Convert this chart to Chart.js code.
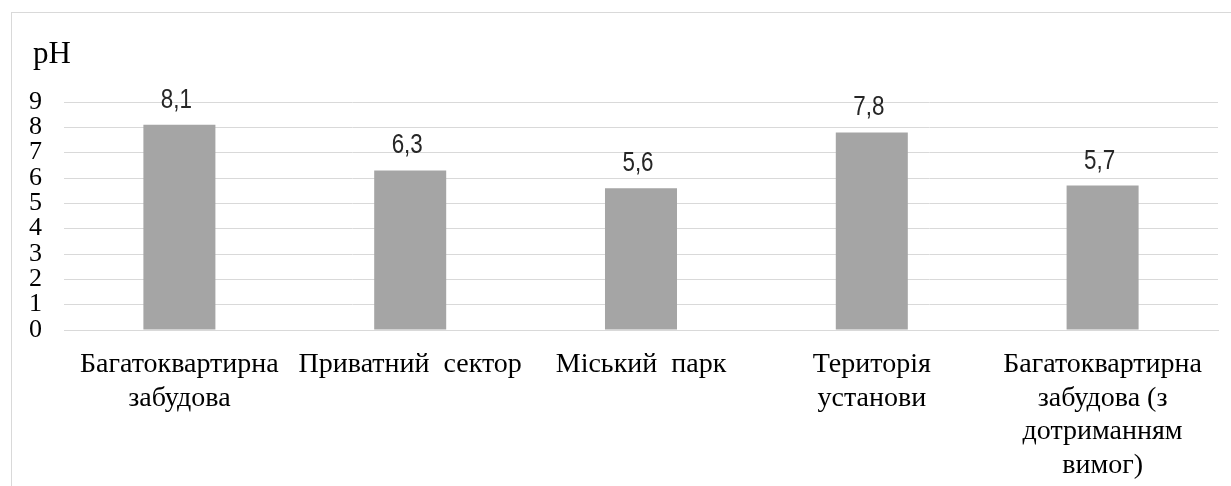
<!DOCTYPE html>
<html>
<head>
<meta charset="utf-8">
<script src="https://cdn.jsdelivr.net/npm/chart.js@4/dist/chart.umd.min.js"></script>
<style>
  html, body { margin: 0; padding: 0; background: #fff; overflow: hidden; }
  #wrap { position: relative; width: 1231px; height: 486px; }
  #frame { position: absolute; left: 11px; top: 12px; width: 1400px; height: 600px;
           border: 1px solid #d9d9d9; box-sizing: border-box; pointer-events: none; }
  canvas { position: absolute; left: 0; top: 0; }
</style>
</head>
<body>
<div id="wrap">
  <div id="frame"></div>
  <canvas id="chart" width="1231" height="486"></canvas>
</div>
<script>
// Sites where soil pH was measured
const categories = [
  ["Багатоквартирна", "забудова"],
  ["Приватний  сектор"],
  ["Міський  парк"],
  ["Територія", "установи"],
  ["Багатоквартирна", "забудова (з", "дотриманням", "вимог)"]
];
// pH value per site
const phValues = [8.1, 6.3, 5.6, 7.8, 5.7];
// Y axis range
const yMin = 0;
const yMax = 9;
const yStep = 1;
const axisTitle = "pH";

const serif = "'Liberation Serif', 'Times New Roman', serif";
const sans = "'Liberation Sans', Arial, sans-serif";

// Writes each bar's value (with a decimal comma) above it, in a condensed face
const valueLabels = {
  id: 'valueLabels',
  afterDatasetsDraw(chart) {
    const ctx = chart.ctx;
    const meta = chart.getDatasetMeta(0);
    const squeeze = 0.8;
    meta.data.forEach((bar, i) => {
      const txt = String(chart.data.datasets[0].data[i]).replace('.', ',');
      ctx.save();
      ctx.translate(bar.x - 3, bar.y - 17);
      ctx.scale(squeeze, 1);
      ctx.font = "28px " + sans;
      ctx.fillStyle = "#262626";
      ctx.textAlign = "center";
      ctx.textBaseline = "alphabetic";
      ctx.fillText(txt, 0, 0);
      ctx.restore();
    });
  }
};

// Axis caption in the upper-left corner
const axisCaption = {
  id: 'axisCaption',
  afterDraw(chart) {
    const ctx = chart.ctx;
    const area = chart.chartArea;
    ctx.save();
    ctx.font = "31px " + serif;
    ctx.fillStyle = "#000";
    ctx.textAlign = "left";
    ctx.textBaseline = "alphabetic";
    ctx.fillText(axisTitle, area.left - 31, area.top - 39);
    ctx.restore();
  }
};

new Chart(document.getElementById('chart'), {
  type: 'bar',
  data: {
    labels: categories,
    datasets: [{
      data: phValues,
      backgroundColor: '#a5a5a5',
      borderWidth: 0,
      categoryPercentage: 1,
      barPercentage: 0.312
    }]
  },
  options: {
    responsive: false,
    animation: false,
    layout: { padding: { left: 28, right: 13, top: 102, bottom: 0 } },
    plugins: {
      legend: { display: false },
      tooltip: { enabled: false }
    },
    scales: {
      x: {
        grid: { display: false, drawTicks: false },
        border: { display: true, color: '#d9d9d9', width: 1 },
        afterFit(scale) { scale.height = 156; },
        ticks: {
          color: '#000',
          font: { family: serif, size: 28, lineHeight: 1.2 },
          padding: 18,
          maxRotation: 0,
          minRotation: 0,
          autoSkip: false
        }
      },
      y: {
        min: yMin,
        max: yMax,
        grid: { color: '#d9d9d9', lineWidth: 1, drawTicks: false },
        border: { display: false },
        afterFit(scale) { scale.width = 36; },
        ticks: {
          stepSize: yStep,
          autoSkip: false,
          color: '#000',
          font: { family: serif, size: 26 },
          padding: 22
        }
      }
    }
  },
  plugins: [valueLabels, axisCaption]
});
</script>
</body>
</html>
